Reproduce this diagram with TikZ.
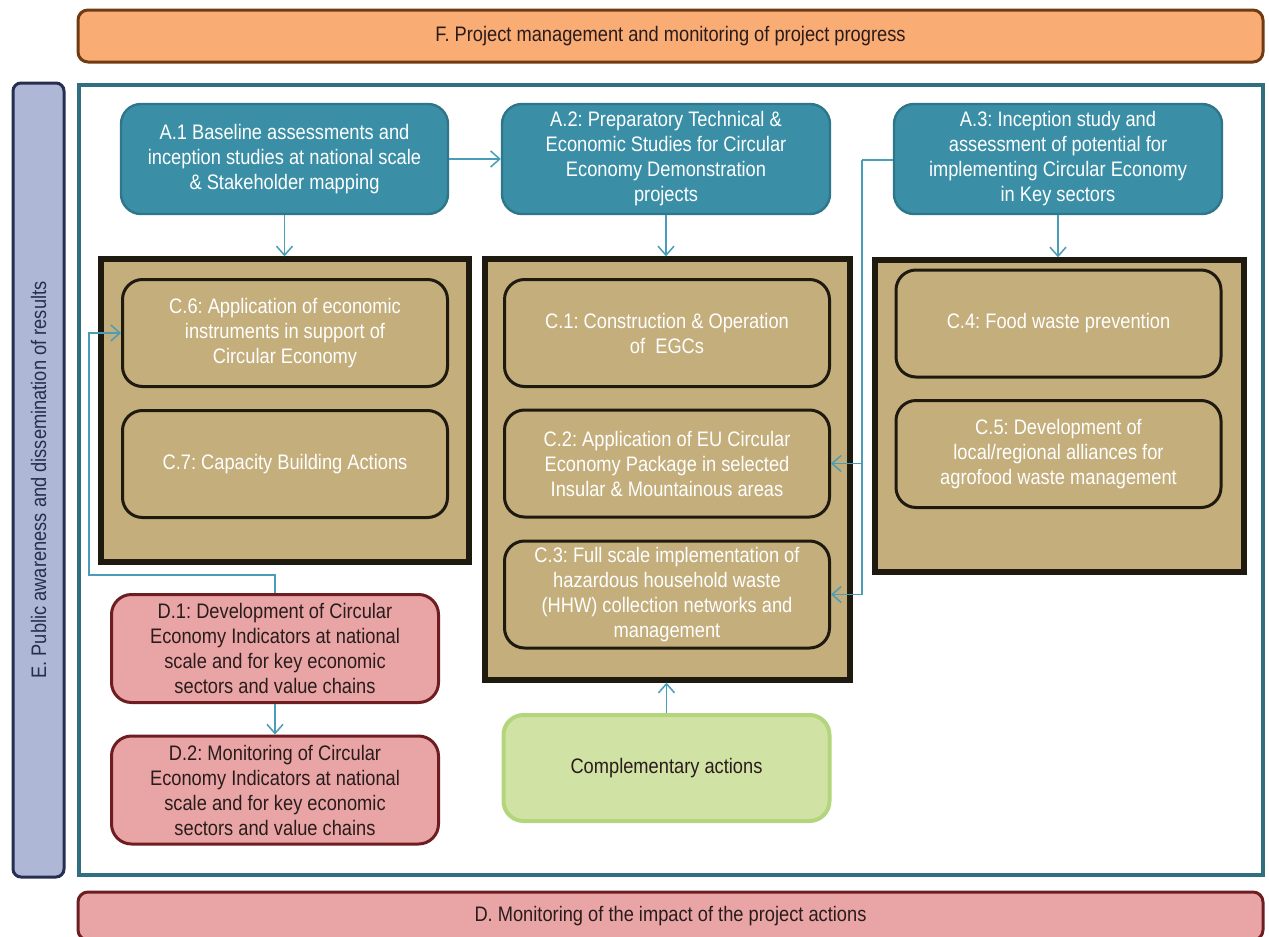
\documentclass[tikz,border=0pt]{standalone}
\usepackage{fontspec}
\setmainfont[FakeStretch=0.87]{Liberation Sans}
\usetikzlibrary{arrows.meta}
\definecolor{aFill}{HTML}{3A8FA6}
\definecolor{aLine}{HTML}{2E7689}
\definecolor{tanF}{HTML}{C4AE7C}
\definecolor{darkL}{HTML}{1F1A10}
\definecolor{orF}{HTML}{F9AC74}
\definecolor{orL}{HTML}{6E3B12}
\definecolor{lavF}{HTML}{AEB7D6}
\definecolor{lavL}{HTML}{262F4F}
\definecolor{frameC}{HTML}{2F6F7F}
\definecolor{redF}{HTML}{E9A5A5}
\definecolor{redL}{HTML}{6E1E22}
\definecolor{grF}{HTML}{D1E3A4}
\definecolor{grL}{HTML}{B3D57C}
\definecolor{linkC}{HTML}{4A9DB8}
\definecolor{txtD}{HTML}{2A1C1C}
\frenchspacing
\begin{document}
\begin{tikzpicture}[x=0.5pt,y=-0.5pt,
  every node/.style={font=\fontsize{10.5pt}{12.5pt}\selectfont\frenchspacing, inner sep=0pt, align=center},
  tealbox/.style={rounded corners=10pt, fill=aFill, draw=aLine, line width=1.2pt, text=white, minimum width=163.5pt, minimum height=55pt},
  cbox/.style={rounded corners=10pt, fill=tanF, draw=darkL, line width=1.5pt, text=white, minimum width=162.5pt, minimum height=53.5pt},
  container/.style={fill=tanF, draw=darkL, line width=2.7pt},
  dbox/.style={rounded corners=10pt, fill=redF, draw=redL, line width=1.5pt, text=txtD, minimum width=163.5pt, minimum height=54pt},
  gbox/.style={rounded corners=10pt, fill=grF, draw=grL, line width=2pt, text=txtD, minimum width=163pt, minimum height=53pt},
  hbar/.style={rounded corners=5pt, line width=1.5pt, text=txtD, minimum width=592.5pt},
  link/.style={draw=linkC, line width=0.75pt, -{Straight Barb[length=4.5pt,width=8pt]}},
  plain/.style={draw=linkC, line width=0.75pt}
]
\useasboundingbox (0,0) rectangle (1269,937);
\fill[white] (0,0) rectangle (1269,937);

% bars and frame
\node[hbar, fill=orF, draw=orL, minimum height=26pt] (fbar) at (670.5,36) {F. Project management and monitoring of project progress};
\node[draw=frameC, fill=white, line width=2pt, minimum width=592pt, minimum height=395pt] (frame) at (671,480) {};
\node[rounded corners=4pt, fill=lavF, draw=lavL, line width=1.5pt, minimum width=25.5pt, minimum height=397pt, text=lavL] (ebar) at (38.5,480) {\rotatebox{90}{E. Public awareness and dissemination of results}};
\node[hbar, fill=redF, draw=redL, minimum height=24pt] (dbar) at (670.5,916) {D. Monitoring of the impact of the project actions};

% A boxes
\node[tealbox] (a1) at (284.5,159) {A.1 Baseline assessments and\\inception studies at national scale\\\& Stakeholder mapping};
\node[tealbox, minimum width=164pt] (a2) at (666,159) {A.2: Preparatory Technical \&\\Economic Studies for Circular\\Economy Demonstration\\projects};
\node[tealbox, minimum width=164pt] (a3) at (1058,159) {A.3: Inception study and\\assessment of potential for\\implementing Circular Economy\\in Key sectors};

% containers
\node[container, minimum width=184pt, minimum height=151.5pt] (lc) at (285,410.5) {};
\node[container, minimum width=182.5pt, minimum height=210.5pt] (mc) at (667.5,469.5) {};
\node[container, minimum width=184.5pt, minimum height=156pt] (rc) at (1059.5,416) {};

% C boxes
\node[cbox] (c6) at (285,333) {C.6: Application of economic\\instruments in support of\\Circular Economy};
\node[cbox] (c7) at (285,464) {C.7: Capacity Building Actions};
\node[cbox] (c1) at (667,333) {C.1: Construction \& Operation\\of~ EGCs};
\node[cbox] (c2) at (667,463.5) {C.2: Application of EU Circular\\Economy Package in selected\\Insular \& Mountainous areas};
\node[cbox] (c3) at (667,594.5) {C.3: Full scale implementation of\\hazardous household waste\\(HHW) collection networks and\\management};
\node[cbox] (c4) at (1058.5,323.5) {C.4: Food waste prevention};
\node[cbox] (c5) at (1058.5,454) {C.5: Development of\\local/regional alliances for\\agrofood waste management};

% D and complementary
\node[dbox] (d1) at (275,648.5) {D.1: Development of Circular\\Economy Indicators at national\\scale and for key economic\\sectors and value chains};
\node[dbox] (d2) at (275,790) {D.2: Monitoring of Circular\\Economy Indicators at national\\scale and for key economic\\sectors and value chains};
\node[gbox] (comp) at (666.5,768) {Complementary actions};

% connectors
\coordinate (bus) at (862,160);
\coordinate (dl) at (89,575);
\draw[link] (a1.east) -- (a2.west);
\draw[link] (a1.south) -- (a1.south |- lc.north);
\draw[link] (a2.south) -- (a2.south |- mc.north);
\draw[link] (a3.south) -- (a3.south |- rc.north);
\draw[plain] (a3.west |- bus) -- (bus);
\draw[link] (bus) |- (c3.east);
\draw[link] (bus |- c2.east) -- (c2.east);
\draw[link] (d1.north) |- (dl) |- (c6.west);
\draw[link] (d1.south) -- (d2.north);
\draw[link] (comp.north) -- (comp.north |- mc.south);
\end{tikzpicture}
\end{document}
